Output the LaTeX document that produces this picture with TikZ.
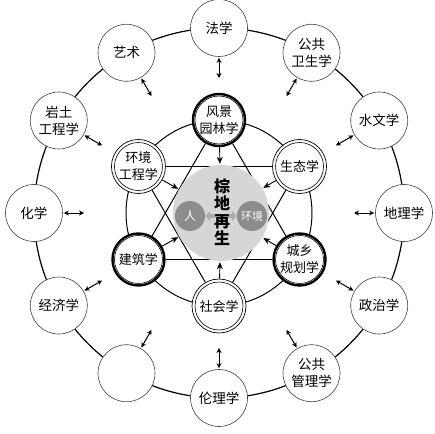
\documentclass[tikz,border=0pt]{standalone}
\usepackage{fontspec}
\setmainfont{Noto Sans CJK SC}
\usetikzlibrary{arrows.meta}
\begin{document}
\begin{tikzpicture}
[outerdecorate/.style={shape=circle,draw=black!75,line width=0.6pt,fill=white,
   minimum size=57pt,inner sep=0pt,align=center,font=\fontsize{13.5}{17}\selectfont},
 thickdecorate/.style={shape=circle,draw,line width=2.4pt,fill=white,
   minimum size=52pt,inner sep=0pt,align=center,font=\fontsize{13}{17}\selectfont},
 thindecorate/.style={shape=circle,draw,line width=0.7pt,fill=white,
   minimum size=54pt,inner sep=0pt,align=center,font=\fontsize{13}{17}\selectfont},
 ringdecorate/.style={line width=0.6pt},
 stardecorate/.style={line width=1pt},
 arrowdecorate/.style={-{Stealth[length=7pt,width=6pt]},line width=0.9pt},
 twowaydecorate/.style={{Stealth[length=5pt,width=5pt]}-{Stealth[length=5pt,width=5pt]},line width=1pt},
 graydecorate/.style={{Triangle[length=5pt,width=10pt]}-{Triangle[length=5pt,width=10pt]},line width=4pt,draw=black!32}]
\useasboundingbox (-219pt,-220pt) rectangle (216pt,213pt);
%% rings
\draw[line width=1.2pt] (0pt,0pt) circle[radius=185pt];
\draw[line width=1pt] (0pt,0pt) circle[radius=93pt];
%% outer disciplines
\foreach \nodename/\angle/\name in {fa/90/法学, gw/60/{公共\\卫生学}, sw/30/水文学,
  dl/0/地理学, zz/-30/政治学, gg/-60/{公共\\管理学}, ll/-90/伦理学, kb/-120/{},
  jj/-150/经济学, hx/180/化学, yt/150/{岩土\\工程学}, ys/120/艺术} {
  \node (\nodename) at (\angle:185pt) [outerdecorate] {\name};
  \coordinate (\nodename tip) at (\angle:135pt);
  \draw[twowaydecorate,shorten <=1pt] (\nodename) -- (\nodename tip);
}
%% middle disciplines
\foreach \nodename/\angle/\name/\look in {fj/90/{风景\\园林学}/thick, st/30/生态学/thin,
  cx/-30/{城乡\\规划学}/thick, sh/-90/社会学/thin, jz/-150/建筑学/thick,
  hj/150/{环境\\工程学}/thin} {
  \node (\nodename) at (\angle:93pt) [\look decorate] {\name};
  \draw[ringdecorate] (\nodename.center) circle[radius=24pt];
}
%% star
\path
\foreach \startnode/\endnode in {fj/cx, cx/jz, jz/fj, hj/st, st/sh, sh/hj} {
  (\startnode) edge[stardecorate] (\endnode)
};
%% core
\node (core) at (2pt,0pt) [shape=circle,fill=black!16,minimum size=96pt,inner sep=0pt] {};
\foreach \nodename in {fj, st, cx, sh, jz, hj} {
  \draw[arrowdecorate,shorten >=1pt] (\nodename) -- (core);
}
\node (ren) at (-29pt,-3pt) [shape=circle,fill=black!45,minimum size=30pt,inner sep=0pt,
  text=white,font=\fontsize{12}{12}\selectfont] {人};
\node (hjing) at (33pt,-3pt) [shape=circle,fill=black!45,minimum size=30pt,inner sep=0pt,
  text=white,font=\fontsize{11}{11}\selectfont] {环境};
\draw[graydecorate] (ren) -- (hjing);
\node (title) at (3pt,1pt) [align=center,font=\bfseries\fontsize{16}{17.5}\selectfont] {棕\\地\\再\\生};
\end{tikzpicture}
\end{document}
